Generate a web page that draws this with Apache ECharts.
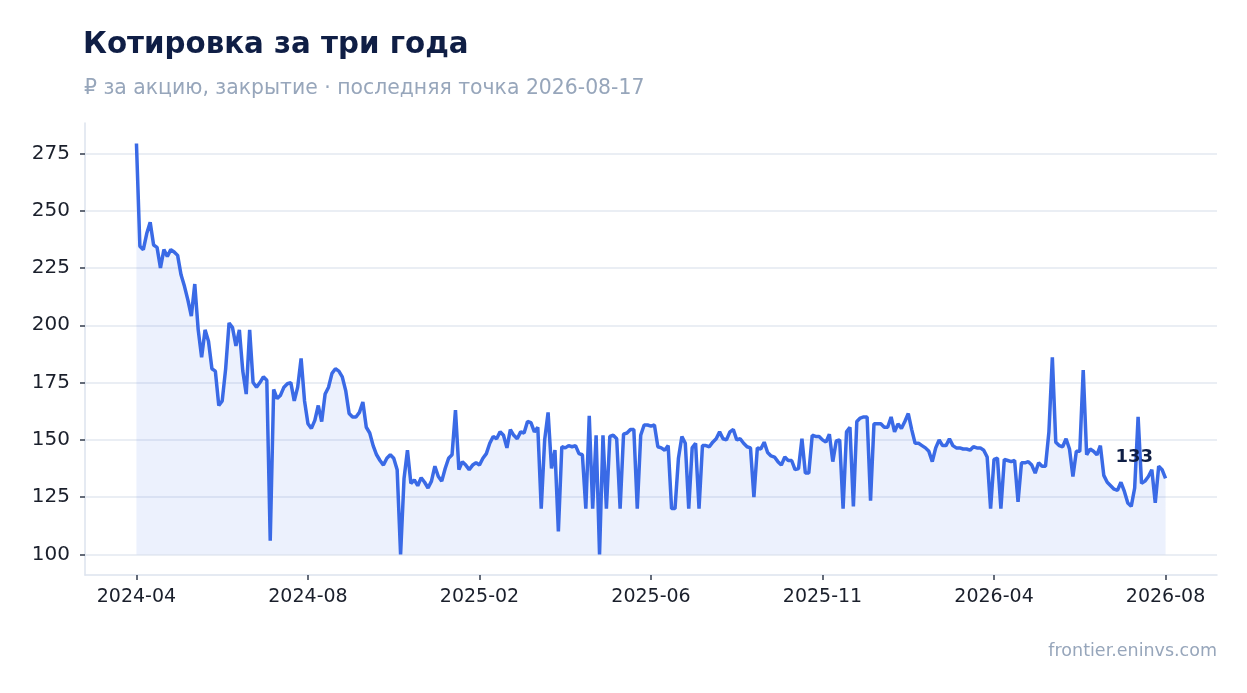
<!DOCTYPE html>
<html>
<head>
<meta charset="utf-8">
<script src="https://cdn.jsdelivr.net/npm/echarts@6/dist/echarts.min.js"></script>
<style>
  html, body { margin: 0; padding: 0; background: #fff; }
  #chart { width: 1247px; height: 693px; }
</style>
</head>
<body>
<div id="chart"></div>
<script>
// close prices, one per trading point (index on x)
var closePrices = [
    279.3, 234.5, 233, 240, 245, 235, 234, 225, 233, 230,
    233, 232, 230.5, 222, 217, 211, 204, 218, 198, 186,
    198, 193, 181, 180, 165, 167, 181, 201, 199, 191,
    198, 180, 170, 198, 175, 173, 175, 177.5, 176, 106,
    172, 168, 169.5, 173, 174.5, 175, 167, 173, 185.5, 167,
    157, 155, 158.5, 165, 158, 170, 173, 179, 181, 180,
    177.5, 171.5, 161.5, 160, 160, 162, 166.5, 155.5, 153, 147.5,
    143.5, 141, 139, 142, 143.5, 142, 137, 100, 133, 145.5,
    131, 132.5, 130, 133.5, 131.5, 129, 132, 138.5, 134, 132,
    137.5, 142, 143.5, 163, 137, 140.5, 139, 137, 139, 140,
    139, 142, 144, 148.5, 151.5, 150.5, 153.5, 152, 146.5, 154.5,
    152, 150.5, 153.5, 153, 158, 157.5, 153.5, 155.5, 120, 150,
    162, 137.5, 145.5, 110, 147, 146.5, 147.5, 147, 147.5, 144,
    143.5, 120, 160.5, 120, 152, 100, 152, 120, 151.5, 152,
    150.5, 120, 152.5, 153, 154.5, 154.5, 120, 152, 156.5, 156.5,
    156, 156.5, 147, 146.5, 145.5, 147.5, 120, 120, 142, 151.5,
    148.5, 120, 146.5, 148.5, 120, 147.5, 147.5, 147, 149, 150.5,
    153.5, 150.5, 150, 153.5, 154.5, 150, 150.5, 148.5, 147, 146.5,
    125, 146.5, 146, 149, 144.5, 143, 142.5, 140.5, 139, 142.5,
    141, 141, 137, 137.5, 150.5, 135.5, 135.5, 152, 151.5, 151.5,
    150, 149, 152.5, 140.5, 149.5, 150, 120, 153.5, 155.5, 121,
    158, 159.5, 160, 160, 123.5, 157, 157, 157, 155.5, 155.5,
    160, 153.5, 157, 155, 158, 161.5, 154.5, 148.5, 148.5, 147.5,
    146.5, 145, 140.5, 146.5, 150, 147.5, 147.5, 150.5, 147.5, 146.5,
    146.5, 146, 146, 145.5, 147, 146.5, 146.5, 145.5, 142.5, 120,
    141.5, 142, 120, 141.5, 141, 140.5, 141, 123, 140, 140,
    140.5, 139, 135.5, 140, 138.5, 138.5, 153.5, 186, 149, 147.5,
    147, 150.5, 146, 134, 145, 145, 180.5, 143.5, 146, 145,
    143.5, 147.5, 134.5, 131.5, 130, 128.5, 128, 131.5, 127.5, 122.5,
    121, 129, 160, 131, 132, 134, 137, 122.5, 138.5, 137,
    133.2
];

var xTickIndex = [0, 50, 100, 150, 200, 250, 300];
var xTickLabels = ['2024-04', '2024-08', '2025-02', '2025-06', '2025-11', '2026-04', '2026-08'];
var yTicks = [100, 125, 150, 175, 200, 225, 250, 275];
var areaBase = 100;
var lastDate = '2026-08-17';

var lineColor = '#3a6ae6';
var font = 'DejaVu Sans';

var seriesData = closePrices.map(function (v, i) { return [i, v]; });

var pad = function (ext) { return (ext.max - ext.min) * 0.05; };

var chart = echarts.init(document.getElementById('chart'));

chart.setOption({
    animation: false,
    title: [{
        text: 'Котировка за три года',
        left: 83,
        top: 31,
        padding: 0,
        textStyle: { fontFamily: font, fontSize: 29.3, fontWeight: 'bold', color: '#0f1e45' }
    }, {
        text: '₽ за акцию, закрытие · последняя точка ' + lastDate,
        left: 84,
        top: 79,
        padding: 0,
        textStyle: { fontFamily: font, fontSize: 20.4, fontWeight: 'normal', color: '#97a6bb' }
    }, {
        text: 'frontier.eninvs.com',
        right: 30,
        top: 642,
        padding: 0,
        textStyle: { fontFamily: font, fontSize: 17.5, fontWeight: 'normal', color: '#97a6bb' }
    }],
    grid: {
        left: 85,
        right: 30,
        top: 123,
        bottom: 118
    },
    xAxis: {
        type: 'value',
        min: function (e) { return e.min - pad(e); },
        max: function (e) { return e.max + pad(e); },
        axisLine: { show: true, onZero: false, lineStyle: { color: '#dde3ee', width: 1.5 } },
        axisTick: {
            show: true,
            customValues: xTickIndex,
            length: 5,
            lineStyle: { color: '#333c4e', width: 1.5 }
        },
        axisLabel: {
            customValues: xTickIndex,
            formatter: function (v) { return xTickLabels[xTickIndex.indexOf(v)]; },
            fontFamily: font,
            fontSize: 19,
            color: '#1a1f2b',
            margin: 13
        },
        splitLine: { show: false }
    },
    yAxis: {
        type: 'value',
        min: function (e) { return e.min - pad(e); },
        max: function (e) { return e.max + pad(e); },
        axisLine: { show: true, onZero: false, lineStyle: { color: '#dde3ee', width: 1.5 } },
        axisTick: {
            show: true,
            customValues: yTicks,
            length: 5,
            lineStyle: { color: '#333c4e', width: 1.5 }
        },
        axisLabel: {
            customValues: yTicks,
            fontFamily: font,
            fontSize: 20,
            color: '#1a1f2b',
            margin: 15
        },
        splitLine: { show: true, lineStyle: { color: '#e3e8f0', width: 1.5 } }
    },
    series: [{
        type: 'line',
        data: seriesData,
        showSymbol: false,
        symbol: 'none',
        lineStyle: { color: lineColor, width: 3.5 },
        itemStyle: { color: lineColor },
        areaStyle: { origin: areaBase, color: 'rgba(58,106,230,0.095)', opacity: 1 },
        endLabel: {
            show: true,
            formatter: function (p) { return Math.round(p.value[1]); },
            offset: [-58, -21],
            fontFamily: font,
            fontSize: 18,
            fontWeight: 'bold',
            color: '#0f1e45'
        },
        z: 3
    }]
});
</script>
</body>
</html>
